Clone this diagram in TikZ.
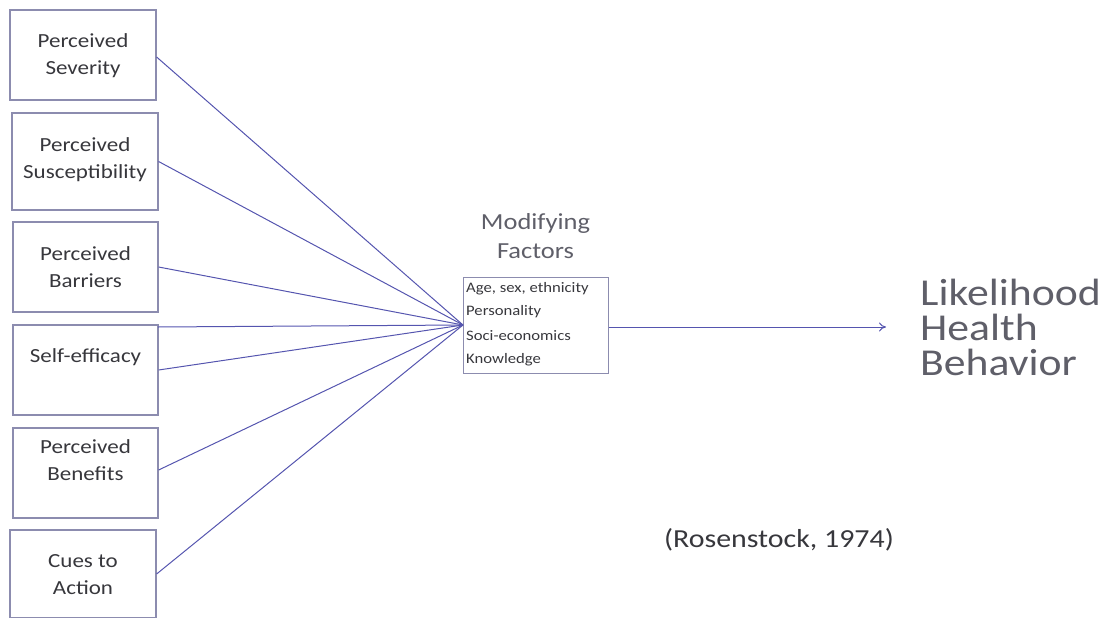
\documentclass[tikz,border=0pt]{standalone}
\usepackage{fontspec}
\setmainfont[FakeStretch=1.15]{Carlito}
\usetikzlibrary{arrows.meta}
\definecolor{linec}{RGB}{85,85,175}
\definecolor{boxc}{RGB}{140,140,175}
\definecolor{txt}{RGB}{55,55,60}
\definecolor{gtxt}{RGB}{95,95,105}
\tikzset{
  box/.style={draw=boxc, line width=1.2pt, inner sep=0pt},
  btext/.style={text=txt, font=\fontsize{20}{27}\selectfont, align=center, inner sep=0pt},
  stxt/.style={text=txt, font=\fontsize{14.5}{16}\selectfont, anchor=west, inner sep=0pt},
  conn/.style={draw=linec, line width=1pt},
}
\begin{document}
\begin{tikzpicture}[x=1pt,y=-1pt]
\useasboundingbox (0,0) rectangle (1108,618);
% left boxes
\node[box, minimum width=146, minimum height=90] (b1) at (83,55) {};
\node[box, minimum width=146, minimum height=97] (b2) at (85,161.5) {};
\node[box, minimum width=145, minimum height=90] (b3) at (85.5,267) {};
\node[box, minimum width=145, minimum height=90] (b4) at (85.5,370) {};
\node[box, minimum width=145, minimum height=90] (b5) at (85.5,473) {};
\node[box, minimum width=146, minimum height=88] (b6) at (83,574) {};
\node[btext] (t1) at (83,56) {Perceived\\Severity};
\node[btext] (t2) at (85,160) {Perceived\\Susceptibility};
\node[btext] (t3) at (85.5,267) {Perceived\\Barriers};
\node[btext] (t4) at (85.5,357) {Self-efficacy};
\node[btext] (t5) at (85.5,460) {Perceived\\Benefits};
\node[btext] (t6) at (83,575) {Cues to\\Action};
% middle box
\node[box, line width=1pt, minimum width=145, minimum height=96] (m) at (535.5,325) {};
\node[stxt] (m1) at (466,289) {Age, sex, ethnicity};
\node[stxt] (m2) at (466,312) {Personality};
\node[stxt] (m3) at (466,336) {Soci-economics};
\node[stxt] (m4) at (466,360) {Knowledge};
\node[text=gtxt, font=\fontsize{23}{29}\selectfont, align=center, inner sep=0pt] (mf) at (535.5,236) {Modifying\\Factors};
% convergence point
\coordinate (c) at (463,325);
\coordinate (b4t) at (158,327);
\draw[conn] (b1.east) ++(0,2) -- (c);
\draw[conn] (b2.east) -- (c);
\draw[conn] (b3.east) -- (c);
\draw[conn] (b4t) -- (c);
\draw[conn] (b4.east) -- (c);
\draw[conn] (b5.east) ++(0,-3) -- (c);
\draw[conn] (b6.east) -- (c);
% output
\coordinate (arr) at (886,327);
\draw[conn, -{To[length=7pt,width=9pt]}] (m.east |- arr) -- (arr);
\node[text=gtxt, font=\fontsize{38}{35}\selectfont, align=left, anchor=west, inner sep=0pt] (lhb) at (920,327) {Likelihood\\Health\\Behavior};
\node[text=txt, font=\fontsize{26}{30}\selectfont, inner sep=0pt] (cite) at (779,540) {(Rosenstock, 1974)};
\end{tikzpicture}
\end{document}
